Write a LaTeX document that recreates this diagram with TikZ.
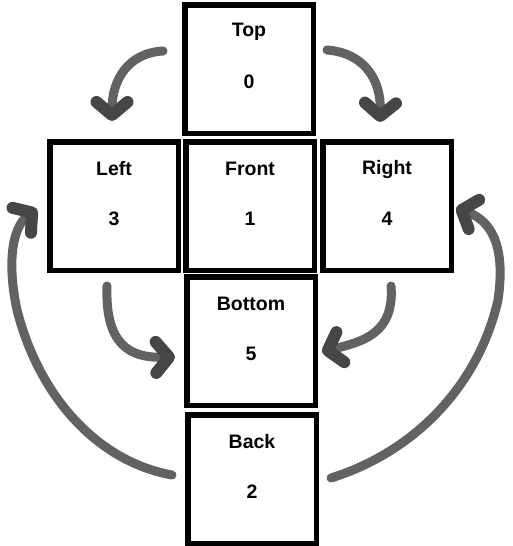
\documentclass[tikz,border=0pt]{standalone}
\usepackage{fontspec}
\setmainfont{Liberation Sans}
\usetikzlibrary{arrows.meta}
\definecolor{strokegray}{RGB}{98,98,98}
\definecolor{headgray}{RGB}{70,70,70}
\begin{document}
\begin{tikzpicture}[x=1pt, y=-1pt,
          font=\bfseries\fontsize{19.5}{23}\selectfont,
          face/.style={draw, line width=5.5pt, minimum size=128.5pt, inner sep=0pt},
          lbl/.style={inner sep=0pt},
          turn/.style={draw=strokegray, line width=9pt, line cap=round,
            -{Straight Barb[length=13pt, width=31pt, line width=12pt 0, round, color=headgray]}}]
        \useasboundingbox (0,0) rectangle (512,546);
        \foreach \nm/\cx/\cy/\lab/\num in {top/249/69/Top/0, left/114/206/Left/3,
            front/250/206/Front/1, right/387/206/Right/4,
            bottom/251/341/Bottom/5, back/252/479/Back/2} {
          \node[face] (\nm) at (\cx,\cy) {};
          \node[lbl] (\nm-lab) at (\cx,\cy-37) {\lab};
          \node[lbl] (\nm-num) at (\cx,\cy+13) {\num};
        }
        % ends of the turning arrows
        \coordinate (tl-a) at (163,51);
        \coordinate (tl-b) at (112,121);
        \coordinate (tr-a) at (327,50);
        \coordinate (tr-b) at (380,122);
        \coordinate (lb-a) at (107,286);
        \coordinate (lb-b) at (175,357);
        \coordinate (rb-a) at (391,286);
        \coordinate (rb-b) at (322,352);
        \coordinate (bl-a) at (172,475);
        \coordinate (bl-b) at (37,209);
        \coordinate (br-a) at (331,478);
        \coordinate (br-b) at (456,208);
        \draw[turn] (tl-a) .. controls (128,53) and (112,80) .. (tl-b);
        \draw[turn] (tr-a) .. controls (366,53) and (381,82) .. (tr-b);
        \draw[turn] (lb-a) .. controls (105,345) and (130,358) .. (lb-b);
        \draw[turn] (rb-a) .. controls (395,335) and (360,342) .. (rb-b);
        \draw[turn] (bl-a) .. controls (100,462) and (40,400) .. (17,310)
          .. controls (6,258) and (14,226) .. (bl-b);
        \draw[turn] (br-a) .. controls (420,450) and (480,380) .. (498,300)
          .. controls (505,252) and (495,222) .. (br-b);
      \end{tikzpicture}
\end{document}
